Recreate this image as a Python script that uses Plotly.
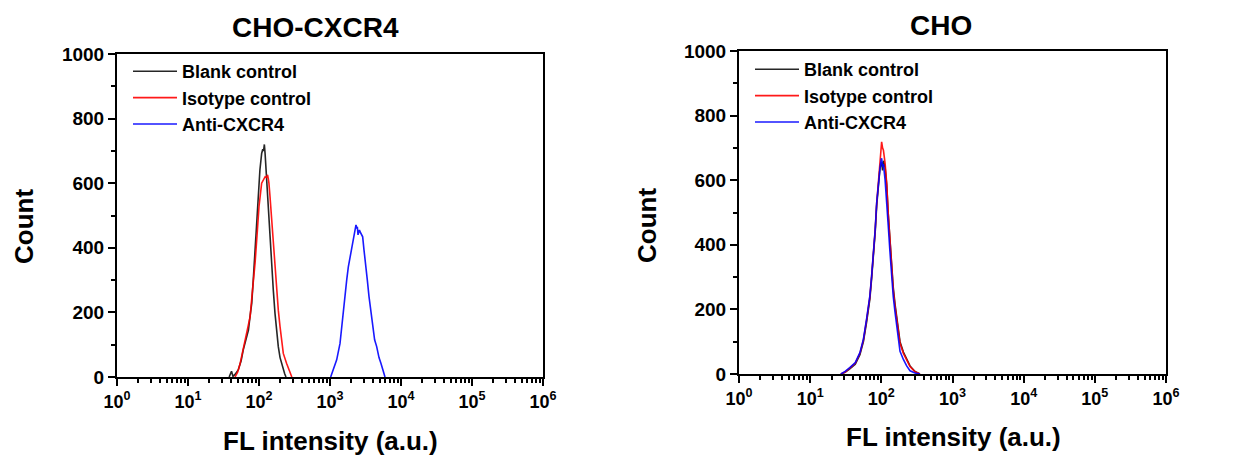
import plotly.graph_objects as go

# ---------------- data ----------------
series_names = ["Blank control", "Isotype control", "Anti-CXCR4"]
series_colors = ["rgba(0,0,0,0.85)", "rgba(255,0,0,0.9)", "rgba(0,0,255,0.9)"]

# Left panel: CHO-CXCR4
l_blank_x = [38, 41, 43, 46, 51, 56, 60, 66, 71, 75, 79, 83, 88, 93, 98, 103, 109, 113, 116, 119,
             122, 125, 128, 132, 135, 143, 151, 159, 168, 177, 187, 198, 215, 230, 240]
l_blank_y = [0, 18, 2, 8, 22, 50, 84, 115, 145, 190, 228, 300, 403, 496, 558, 641, 692, 705, 700, 720,
             690, 651, 600, 540, 507, 424, 342, 269, 197, 135, 94, 60, 30, 10, 0]

l_iso_x = [46, 50, 54, 60, 67, 75, 81, 88, 95, 100, 109, 116, 122, 128, 132, 135, 138, 143, 151, 159,
           168, 177, 187, 198, 209, 220, 245, 258, 267, 280, 290]
l_iso_y = [0, 15, 40, 84, 135, 187, 269, 352, 455, 527, 600, 612, 620, 618, 626, 615, 600, 558, 486, 393,
           331, 269, 207, 155, 114, 73, 42, 30, 21, 8, 0]

l_anti_x = [1022, 1114, 1242, 1384, 1460, 1542, 1626, 1718, 1812, 1914, 2020, 2133, 2250, 2323, 2400,
            2427, 2480, 2533, 2600, 2647, 2763, 2885, 3013, 3179, 3356, 3543, 3779, 4000, 4250, 4544,
            4900, 5227, 5634, 5952]
l_anti_y = [0, 21, 53, 104, 156, 207, 249, 300, 341, 372, 403, 424, 455, 471, 460,
            465, 440, 445, 455, 450, 440, 434, 393, 352, 300, 249, 197, 150, 115, 94,
            60, 42, 18, 0]

# Right panel: CHO
r_x = [27, 31, 36, 43, 50, 56, 62, 69, 73, 77, 82, 86, 91, 96, 99, 101, 104, 107, 113, 119,
       125, 132, 140, 147, 156, 164, 173, 183, 204, 227, 253, 297, 349]
r_blank_y = [0, 5, 16, 30, 60, 100, 160, 232, 295, 355, 440, 520, 595, 640, 650, 655, 630, 660, 640, 585,
             495, 418, 330, 268, 215, 175, 140, 100, 68, 45, 25, 8, 0]
r_iso_y = [0, 6, 18, 33, 64, 105, 167, 239, 301, 363, 446, 528, 601, 652, 690, 719, 700, 693, 652, 590,
           497, 415, 322, 260, 208, 167, 136, 95, 64, 43, 23, 7, 0]
r_anti_y = [0, 8, 20, 35, 66, 108, 170, 242, 303, 365, 448, 530, 600, 640, 660, 668, 640, 650, 600, 540,
            460, 380, 300, 240, 190, 150, 110, 70, 45, 25, 10, 3, 0]

x_tickvals = [1, 10, 100, 1000, 10000, 100000, 1000000]
x_ticktext = ["10<sup>0</sup>", "10<sup>1</sup>", "10<sup>2</sup>", "10<sup>3</sup>",
              "10<sup>4</sup>", "10<sup>5</sup>", "10<sup>6</sup>"]
y_tickvals = [0, 200, 400, 600, 800, 1000]

panel_titles = ["CHO-CXCR4", "CHO"]
x_title = "FL intensity (a.u.)"
y_title = "Count"

# ---------------- figure ----------------
W, H = 1246, 458
OFF = 8  # the page places the figure 8 px in from the top-left corner
FONT = "Liberation Sans, Arial, sans-serif"


def px(x):
    return (x - OFF) / W


def py(y):
    return (H - (y - OFF)) / H


fig = go.Figure()

left_sets = [(l_blank_x, l_blank_y), (l_iso_x, l_iso_y), (l_anti_x, l_anti_y)]
for i, (xs, ys) in enumerate(left_sets):
    fig.add_trace(go.Scatter(x=xs, y=ys, mode="lines", name=series_names[i],
                             line=dict(color=series_colors[i], width=1.6),
                             xaxis="x", yaxis="y", legend="legend"))

right_sets = [r_blank_y, r_iso_y, r_anti_y]
for i, ys in enumerate(right_sets):
    fig.add_trace(go.Scatter(x=r_x, y=ys, mode="lines", name=series_names[i],
                             line=dict(color=series_colors[i], width=1.6),
                             xaxis="x2", yaxis="y2", legend="legend2"))


def xaxis(domain, anchor):
    return dict(domain=domain, anchor=anchor, type="log", range=[0, 6],
                tickmode="array", tickvals=x_tickvals, ticktext=x_ticktext,
                ticks="outside", ticklen=7, tickwidth=2, tickcolor="black",
                showline=True, linecolor="black", linewidth=2, mirror=True,
                showgrid=False, zeroline=False, automargin=False,
                tickfont=dict(family=FONT, size=18, color="black", weight="bold"),
                minor=dict(ticks="outside", ticklen=4, tickwidth=1.5, tickcolor="black",
                           dtick="D1", showgrid=False))


def yaxis(domain, anchor):
    return dict(domain=domain, anchor=anchor, range=[0, 1000],
                tickmode="array", tickvals=y_tickvals,
                ticks="outside", ticklen=7, tickwidth=2, tickcolor="black",
                showline=True, linecolor="black", linewidth=2, mirror=True,
                showgrid=False, zeroline=False, automargin=False,
                tickfont=dict(family=FONT, size=19, color="black", weight="bold"),
                minor=dict(ticks="outside", ticklen=4, tickwidth=1.5, tickcolor="black",
                           dtick=100, showgrid=False))


legend_font = dict(family=FONT, size=18, color="black", weight="bold")
fig.update_layout(
    width=W, height=H,
    margin=dict(l=0, r=0, t=0, b=0, autoexpand=False),
    paper_bgcolor="white", plot_bgcolor="white",
    xaxis=xaxis([px(117), px(543)], "y"),
    yaxis=yaxis([py(377), py(54)], "x"),
    xaxis2=xaxis([px(739), px(1166)], "y2"),
    yaxis2=yaxis([py(374), py(51)], "x2"),
    legend=dict(x=px(128), y=py(53), xanchor="left", yanchor="top",
                bgcolor="rgba(0,0,0,0)", borderwidth=0, itemwidth=44, font=legend_font),
    legend2=dict(x=px(750), y=py(51), xanchor="left", yanchor="top",
                 bgcolor="rgba(0,0,0,0)", borderwidth=0, itemwidth=44, font=legend_font),
    showlegend=True,
)

annots = [
    dict(text=panel_titles[0], x=px(315), y=py(27), size=28),
    dict(text=panel_titles[1], x=px(941), y=py(25), size=28),
    dict(text=x_title, x=px(330), y=py(441), size=26),
    dict(text=x_title, x=px(953), y=py(437), size=26),
    dict(text=y_title, x=px(24), y=py(227), size=26, textangle=-90),
    dict(text=y_title, x=px(647), y=py(226), size=26, textangle=-90),
]
for a in annots:
    size = a.pop("size")
    fig.add_annotation(xref="paper", yref="paper", showarrow=False,
                       xanchor="center", yanchor="middle",
                       font=dict(family=FONT, size=size, color="black", weight="bold"), **a)

fig.write_html("out.html")
